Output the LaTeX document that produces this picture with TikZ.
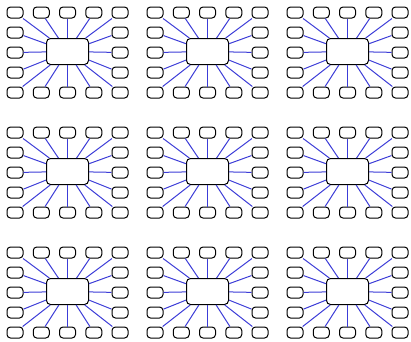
\documentclass[tikz,border=0pt]{standalone}
\definecolor{linkblue}{RGB}{60,60,215}
\begin{document}
\begin{tikzpicture}[x=1pt,y=-1pt,
  small/.style={draw, rounded corners=3.5pt, minimum width=16pt, minimum height=11pt, inner sep=0pt, line width=1pt},
  hub/.style={draw, rounded corners=4pt, minimum width=42pt, minimum height=26pt, inner sep=0pt, line width=1pt},
  link/.style={draw=linkblue, line width=1pt}]
\useasboundingbox (0,0) rectangle (411,341);
\foreach \i in {0,1,2}{
 \foreach \j in {0,1,2}{
  \begin{scope}[shift={(140*\i,120*\j)}]
   \node[hub] (h\i\j) at (67.5,51.5) {};
   \foreach \k [count=\n] in {15,41.25,67.5,93.75,120}{
     \node[small] (t\i\j\n) at (\k,12.5) {};
     \node[small] (b\i\j\n) at (\k,92.5) {};
   }
   \foreach \yy [count=\n] in {32.5,52.5,72.5}{
     \node[small] (l\i\j\n) at (15,\yy) {};
     \node[small] (r\i\j\n) at (120,\yy) {};
   }
   \foreach \n in {1,...,5}{
     \draw[link] (h\i\j) -- (t\i\j\n);
     \draw[link] (h\i\j) -- (b\i\j\n);
   }
   \foreach \n in {1,2,3}{
     \draw[link] (h\i\j) -- (l\i\j\n);
     \draw[link] (h\i\j) -- (r\i\j\n);
   }
  \end{scope}
 }
}
\end{tikzpicture}
\end{document}
